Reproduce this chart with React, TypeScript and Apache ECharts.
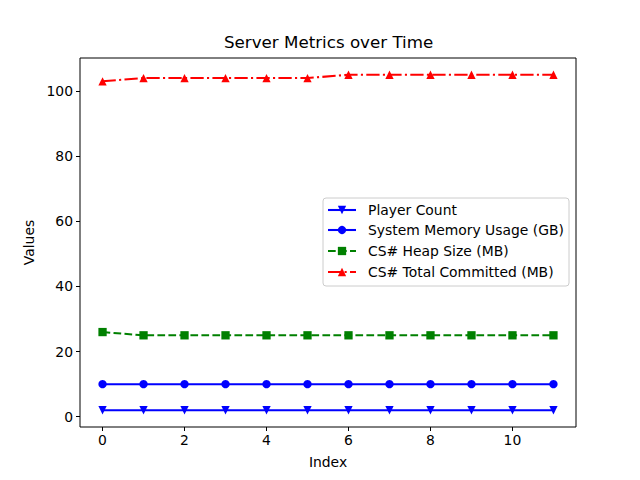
import React, { useEffect, useRef } from "react";
import * as echarts from "echarts";

const indices = [0, 1, 2, 3, 4, 5, 6, 7, 8, 9, 10, 11];
const playerCount = [2, 2, 2, 2, 2, 2, 2, 2, 2, 2, 2, 2];
const systemMemory = [10, 10, 10, 10, 10, 10, 10, 10, 10, 10, 10, 10];
const heapSize = [26, 25, 25, 25, 25, 25, 25, 25, 25, 25, 25, 25];
const totalCommitted = [103, 104, 104, 104, 104, 104, 105, 105, 105, 105, 105, 105];
const xTicks = [0, 2, 4, 6, 8, 10];
const yTicks = [0, 20, 40, 60, 80, 100];
const seriesNames = [
  "Player Count",
  "System Memory Usage (GB)",
  "CS# Heap Size (MB)",
  "CS# Total Committed (MB)",
];

const FONT = "DejaVu Sans";

export default function App() {
  const ref = useRef<HTMLDivElement>(null);
  useEffect(() => {
    const chart = echarts.init(ref.current!, undefined, { renderer: "svg" });
    const pair = (ys: number[]) => indices.map((x, i) => [x, ys[i]]);
    const lw = 2.08;
    const ms = 8.3;
    const styles = [
      { color: "#0000ff", symbol: "triangle", rotate: 180, type: "solid" as any },
      { color: "#0000ff", symbol: "circle", rotate: 0, type: "solid" as any },
      { color: "#008000", symbol: "rect", rotate: 0, type: [7.7, 3.3] as any },
      { color: "#ff0000", symbol: "triangle", rotate: 0, type: [13.3, 3.3, 2.1, 3.3] as any },
    ];
    const datas = [playerCount, systemMemory, heapSize, totalCommitted];

    const lgX = 323, lgY = 198, lgW = 246, lgH = 88;
    const rows = [210, 230, 251, 272];
    const legendEls: any[] = [
      {
        type: "rect",
        shape: { x: lgX, y: lgY, width: lgW, height: lgH, r: 3 },
        style: { fill: "rgba(255,255,255,0.8)", stroke: "#cccccc", lineWidth: 1 },
        z: 10,
      },
    ];
    rows.forEach((ry, i) => {
      const s = styles[i];
      legendEls.push({
        type: "line",
        shape: { x1: 328, y1: ry, x2: 356, y2: ry },
        style: { stroke: s.color, lineWidth: lw, lineDash: Array.isArray(s.type) ? s.type : null },
        z: 11,
      });
      const cx = 342;
      const h = ms / 2;
      let marker: any;
      if (s.symbol === "circle") {
        marker = { type: "circle", shape: { cx, cy: ry, r: h }, style: { fill: s.color } };
      } else if (s.symbol === "rect") {
        marker = { type: "rect", shape: { x: cx - h, y: ry - h, width: ms, height: ms }, style: { fill: s.color } };
      } else if (s.rotate === 180) {
        marker = { type: "polygon", shape: { points: [[cx - h, ry - h], [cx + h, ry - h], [cx, ry + h]] }, style: { fill: s.color } };
      } else {
        marker = { type: "polygon", shape: { points: [[cx - h, ry + h], [cx + h, ry + h], [cx, ry - h]] }, style: { fill: s.color } };
      }
      marker.z = 12;
      legendEls.push(marker);
      legendEls.push({
        type: "text",
        x: 368,
        y: ry,
        style: { text: seriesNames[i], fill: "#000", font: `13.9px ${FONT}`, verticalAlign: "middle" },
        z: 12,
      });
    });

    chart.setOption({
      animation: false,
      backgroundColor: "#ffffff",
      title: {
        text: "Server Metrics over Time",
        left: 219,
        top: 28,
        textStyle: { fontFamily: FONT, fontSize: 16.7, fontWeight: "normal", color: "#000" },
      },
      grid: {
        left: 80,
        right: 64,
        top: 58,
        bottom: 53,
        show: true,
        borderColor: "#000",
        borderWidth: 1,
        backgroundColor: "transparent",
      },
      xAxis: {
        type: "value",
        min: -0.55,
        max: 11.55,
        name: "Index",
        nameLocation: "middle",
        nameGap: 28,
        nameTextStyle: { fontFamily: FONT, fontSize: 13.9, color: "#000" },
        splitLine: { show: false },
        axisLine: { show: false, onZero: false },
        axisTick: { show: true, inside: false, length: 4, lineStyle: { color: "#000" }, customValues: xTicks },
        axisLabel: { fontFamily: FONT, fontSize: 13.9, color: "#000", margin: 6, customValues: xTicks },
      },
      yAxis: {
        type: "value",
        min: -3.15,
        max: 110.15,
        name: "Values",
        nameLocation: "middle",
        nameGap: 44,
        nameTextStyle: { fontFamily: FONT, fontSize: 13.9, color: "#000" },
        splitLine: { show: false },
        axisLine: { show: false, onZero: false },
        axisTick: { show: true, inside: false, length: 4, lineStyle: { color: "#000" }, customValues: yTicks },
        axisLabel: { fontFamily: FONT, fontSize: 13.9, color: "#000", margin: 7, customValues: yTicks },
      },
      series: datas.map((d, i) => ({
        type: "line",
        name: seriesNames[i],
        data: pair(d),
        symbol: styles[i].symbol,
        symbolRotate: styles[i].rotate,
        symbolSize: ms,
        showAllSymbol: true,
        lineStyle: { color: styles[i].color, width: lw, type: styles[i].type },
        itemStyle: { color: styles[i].color, borderWidth: 0 },
        z: 2 + i,
      })),
      graphic: legendEls,
    });
    return () => chart.dispose();
  }, []);
  return <div ref={ref} style={{ width: 640, height: 480, position: "absolute", left: 0, top: 0 }} />;
}
